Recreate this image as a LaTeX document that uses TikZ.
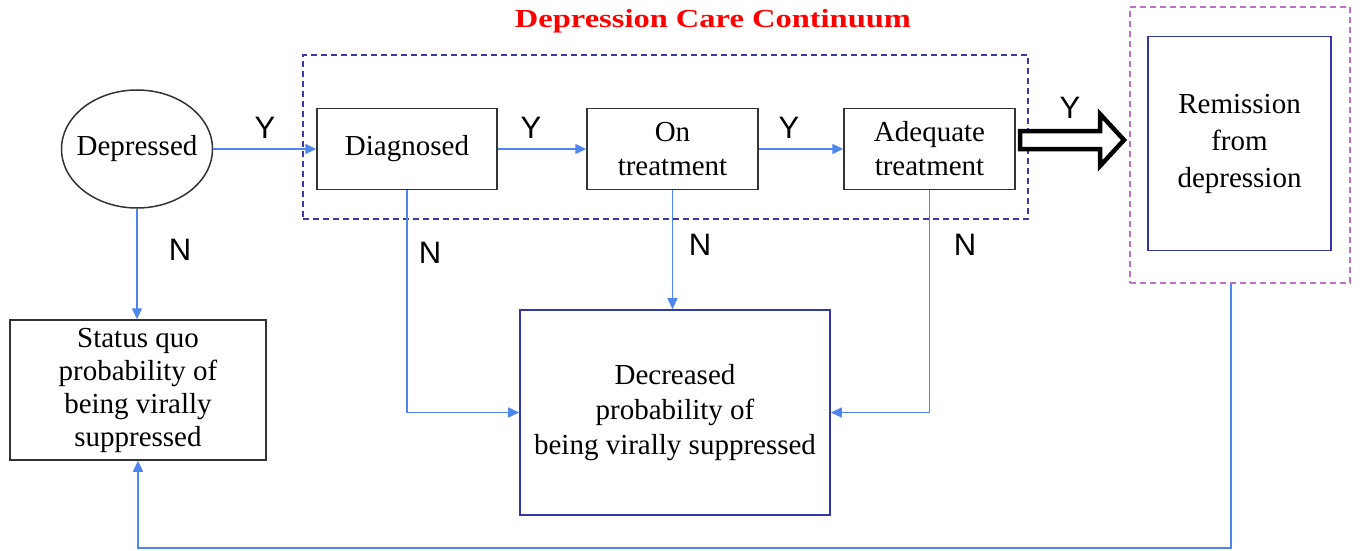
\documentclass[tikz,border=0pt]{standalone}
\usepackage{fontspec}
\usepackage{graphicx}
\setmainfont{Liberation Serif}
\newfontfamily\yfont{Liberation Sans}
\usetikzlibrary{arrows.meta,shapes.geometric}
\definecolor{arrowblue}{HTML}{4F86EE}
\definecolor{dashblue}{HTML}{3A3AA8}
\definecolor{boxblue}{HTML}{3535A5}
\definecolor{dashmag}{HTML}{C070C8}
\definecolor{boxgray}{HTML}{333333}
\tikzset{
  txt/.style={font=\fontsize{29}{33}\selectfont, align=center, inner sep=0pt},
  graybox/.style={txt, draw=boxgray, line width=1.5pt, rectangle},
  bluebox/.style={txt, draw=boxblue, line width=1.6pt, rectangle},
  flow/.style={draw=arrowblue, line width=1.5pt, -{Triangle[length=11pt,width=10pt]}},
  yn/.style={font=\yfont\fontsize{31}{31}\selectfont, inner sep=0pt},
  dashbox/.style={draw, line width=1.8pt, dash pattern=on 6pt off 4pt, rectangle, inner sep=0pt}
}
\begin{document}
\begin{tikzpicture}[x=1pt,y=-1pt]
\useasboundingbox (0,0) rectangle (1360,551);
% title
\node[font=\bfseries\fontsize{26}{26}\selectfont, text=red, inner sep=0pt] (title) at (713,21) {\scalebox{1.25}[1]{Depression Care Continuum}};
% containers
\node[dashbox, draw=dashblue, minimum width=725pt, minimum height=164pt] (care) at (665.5,137) {};
\node[dashbox, draw=dashmag, minimum width=220pt, minimum height=276pt] (remout) at (1240,145) {};
% nodes
\node[draw=boxgray, line width=1.5pt, ellipse, inner sep=0pt, minimum width=151pt, minimum height=118pt,
      label={[txt]center:Depressed}] (dep) at (137,149) {};
\node[graybox, minimum width=180pt, minimum height=81pt] (diag) at (407,149) {Diagnosed};
\node[graybox, minimum width=171pt, minimum height=81pt, font=\fontsize{29}{34}\selectfont] (ontr) at (672.5,149) {On\\treatment};
\node[graybox, minimum width=171pt, minimum height=81pt, font=\fontsize{29}{34}\selectfont] (adeq) at (929.5,149) {Adequate\\treatment};
\node[bluebox, minimum width=183pt, minimum height=214pt, font=\fontsize{29}{37}\selectfont] (rem) at (1239.5,143.5) {Remission\\from\\depression};
\node[graybox, minimum width=256pt, minimum height=140pt] (sq) at (138,390) {Status quo\\probability of\\being virally\\suppressed};
\node[bluebox, minimum width=310pt, minimum height=205pt, font=\fontsize{29}{35}\selectfont] (dec) at (675,412.5) {Decreased\\probability of\\being virally suppressed};
% labels
\node[yn] (y1) at (265,128) {Y};
\node[yn] (y2) at (531,128) {Y};
\node[yn] (y3) at (789,128) {Y};
\node[yn] (y4) at (1070,108) {Y};
\node[yn] (n1) at (180,250) {N};
\node[yn] (n2) at (430,253) {N};
\node[yn] (n3) at (700,245) {N};
\node[yn] (n4) at (965,245) {N};
% connectors
\draw[flow] (dep.east) -- (diag.west);
\draw[flow] (diag.east) -- (ontr.west);
\draw[flow] (ontr.east) -- (adeq.west);
\draw[flow] (dep.south) -- (sq.north -| dep.south);
\draw[flow] (diag.south) |- (dec.west);
\draw[flow] (ontr.south) -- (ontr.south |- dec.north);
\draw[flow] (adeq.south) |- (dec.east);
\coordinate (loopcorner) at (1231,548);
\draw[flow] (remout.south -| loopcorner) -- (loopcorner) -| (sq.south);
% big hollow arrow
\draw[line width=4.5pt, line join=miter, fill=white]
  (1020,131) -- (1100,131) -- (1100,114) -- (1124,140) -- (1100,166) -- (1100,149) -- (1020,149) -- cycle;
\end{tikzpicture}
\end{document}
